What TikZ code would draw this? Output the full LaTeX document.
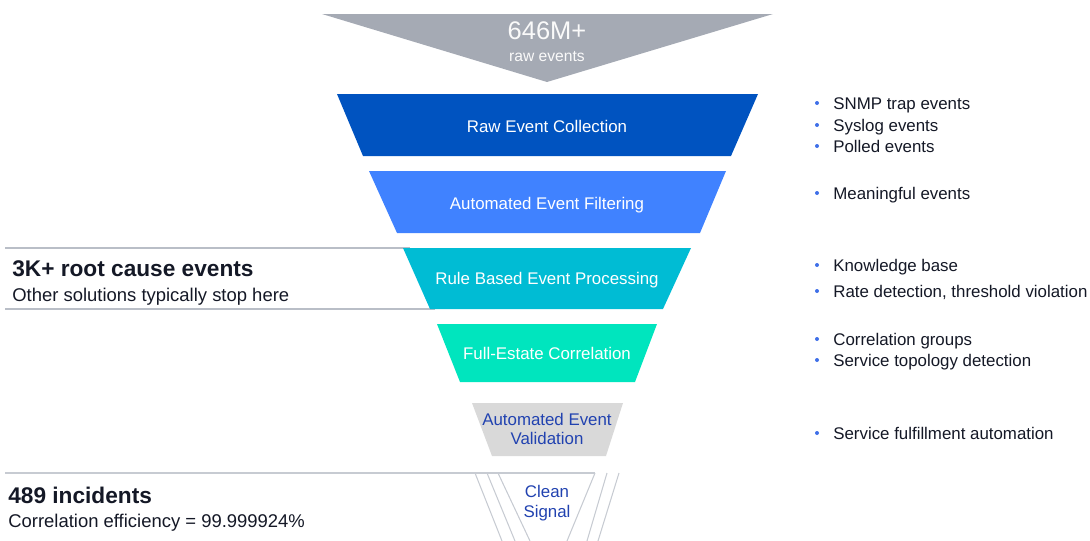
\documentclass[tikz,border=0pt]{standalone}
\usepackage{fontspec}
\setmainfont{Liberation Sans}
\definecolor{rawgray}{HTML}{A5AAB4}
\definecolor{collectblue}{HTML}{0053C0}
\definecolor{filterblue}{HTML}{4082FF}
\definecolor{rulecyan}{HTML}{00BCD4}
\definecolor{correlmint}{HTML}{00E5BE}
\definecolor{validgray}{HTML}{D9D9D9}
\definecolor{signalblue}{HTML}{2142B0}
\definecolor{rulegray}{HTML}{B9BEC7}
\definecolor{bulletblue}{HTML}{3F6FE8}
\definecolor{inkblack}{HTML}{141826}

\begin{document}
\begin{tikzpicture}[x=0.02cm, y=-0.02cm,
	bandtext/.style={text=white, inner sep=0pt, font=\fontsize{9.6}{11.5}\selectfont,
		text height=0.72em, text depth=0pt},
	signaltext/.style={text=signalblue, inner sep=0pt, align=center,
		font=\fontsize{9.6}{11.3}\selectfont},
	headline/.style={anchor=west, inner sep=0pt, text=inkblack,
		font=\fontsize{12.9}{15}\selectfont\bfseries, text height=0.72em, text depth=0pt},
	subline/.style={anchor=west, inner sep=0pt, text=inkblack,
		font=\fontsize{10.5}{12}\selectfont, text height=0.72em, text depth=0pt},
	item/.style={anchor=west, inner sep=0pt, text=inkblack,
		font=\fontsize{9.6}{11.5}\selectfont, text height=0.72em, text depth=0pt},
	siderule/.style={draw=rulegray, line width=1.1pt},
	thinrule/.style={draw=rulegray!80, line width=0.6pt}]

\def\ox{547}
\def\bulletx{833}
\def\dotr{2}

\path [use as bounding box] (0,0) rectangle (1090,541);

% Side rules
\draw [siderule] (5,248) -- (410,248);
\draw [siderule] (5,309) -- (435,309);
\draw [thinrule] (5,473) -- (\ox,473) -- +(48,0);

% Clean signal funnel
\draw [thinrule] (\ox,473)
	+(-49,0) -- +(-17,68)
	+(48,0) -- +(20,68);
\draw [thinrule] (\ox,473)
	+(-72,0) -- +(-45,68)
	+(-60,0) -- +(-32,68)
	+(60,0) -- +(40,68)
	+(72,0) -- +(51,68);

% Raw events arrow
\fill [fill=rawgray] (\ox,14)
	+(-225,0) -- +(226,0) -- +(0,68) -- cycle;

% Bands
\fill [fill=collectblue] (\ox,94)
	+(-210,0) -- +(211,0) -- +(184,62) -- +(-184,62) -- cycle;
\fill [fill=filterblue] (\ox,171)
	+(-178,0) -- +(179,0) -- +(153,62) -- +(-150,62) -- cycle;
\fill [fill=rulecyan] (\ox,248)
	+(-144,0) -- +(144,0) -- +(116,61) -- +(-117,61) -- cycle;
\fill [fill=correlmint] (\ox,324)
	+(-110,0) -- +(110,0) -- +(88,58) -- +(-87,58) -- cycle;
\fill [fill=validgray] (\ox,403)
	+(-75,0) -- +(76,0) -- +(59,53) -- +(-55,53) -- cycle;

% Funnel labels
\node [text=white!94!rawgray, inner sep=0pt, font=\fontsize{14.5}{16}\selectfont,
	text height=0.72em, text depth=0pt] (rawcount) at (\ox,33) {646M+};
\node [text=white!94!rawgray, inner sep=0pt, font=\fontsize{8.9}{10}\selectfont,
	text height=0.72em, text depth=0pt] (rawlabel) at (\ox,55) {raw events};
\node [bandtext] (collect) at (\ox,126) {Raw Event Collection};
\node [bandtext] (filter) at (\ox,203) {Automated Event Filtering};
\node [bandtext] (rules) at (\ox,278) {Rule Based Event Processing};
\node [bandtext] (fullestate) at (\ox,353) {Full-Estate Correlation};
\node [signaltext] (validate) at (\ox,429) {Automated Event\\Validation};
\node [signaltext] (signal) at (\ox,503) {Clean\\Signal};

% Left figures
\node [headline] (rootcount) at (12,270) {3K+ root cause events};
\node [subline] (rootnote) at (12,295) {Other solutions typically stop here};
\node [headline] (incidents) at (8,497) {489 incidents};
\node [subline] (efficiency) at (8,521) {Correlation efficiency = 99.999924\%};

% Right bullets
\node [item] (snmp) at (\bulletx,103) {SNMP trap events};
\node [item] (syslog) at (\bulletx,125) {Syslog events};
\node [item] (polled) at (\bulletx,146) {Polled events};
\node [item] (meaningful) at (\bulletx,193) {Meaningful events};
\node [item] (knowledge) at (\bulletx,265) {Knowledge base};
\node [item] (ratedetect) at (\bulletx,291) {Rate detection, threshold violation};
\node [item] (corrgroups) at (\bulletx,339) {Correlation groups};
\node [item] (topology) at (\bulletx,360) {Service topology detection};
\node [item] (fulfil) at (\bulletx,433) {Service fulfillment automation};

% Bullet dots
\fill [fill=bulletblue]
	(snmp.west) +(-16,0) circle (\dotr)
	(syslog.west) +(-16,0) circle (\dotr)
	(polled.west) +(-16,0) circle (\dotr)
	(meaningful.west) +(-16,0) circle (\dotr)
	(knowledge.west) +(-16,0) circle (\dotr)
	(ratedetect.west) +(-16,0) circle (\dotr)
	(corrgroups.west) +(-16,0) circle (\dotr)
	(topology.west) +(-16,0) circle (\dotr)
	(fulfil.west) +(-16,0) circle (\dotr);

\end{tikzpicture}
\end{document}
